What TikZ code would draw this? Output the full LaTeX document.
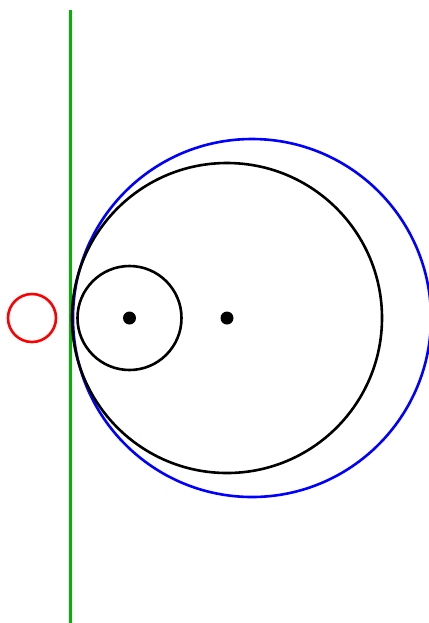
\documentclass[tikz,border=0pt]{standalone}
\usepackage{tikz}
\definecolor{tangentgreen}{RGB}{0,180,0}
\tikzset{
  circline/.style={line width=1.3pt},
  tanline/.style={line width=1.5pt, tangentgreen},
  centdot/.style={fill=black},
}

\begin{document}
\begin{tikzpicture}[x=0.5pt, y=-0.5pt]
  \useasboundingbox (0,0) rectangle (429,623);
  % Centres
  \coordinate (Cred)   at (32,318);
  \coordinate (Csmall) at (129.5,318);
  \coordinate (Cbig)   at (227,318);
  \coordinate (Cblue)  at (252,318);
  % Tangent line
  \coordinate (Ltop) at (70,10);
  \coordinate (Lbot) at (70,623);
  \draw[tanline] (Ltop) -- (Lbot);
  % Circles
  \draw[circline, red]  (Cred)   circle[radius=24];
  \draw[circline, blue] (Cblue)  circle[radius=179];
  \draw[circline]       (Cbig)   circle[radius=155];
  \draw[circline]       (Csmall) circle[radius=52];
  % Dots
  \fill[centdot] (Csmall) circle[radius=6.5];
  \fill[centdot] (Cbig)   circle[radius=6.5];
\end{tikzpicture}
\end{document}
